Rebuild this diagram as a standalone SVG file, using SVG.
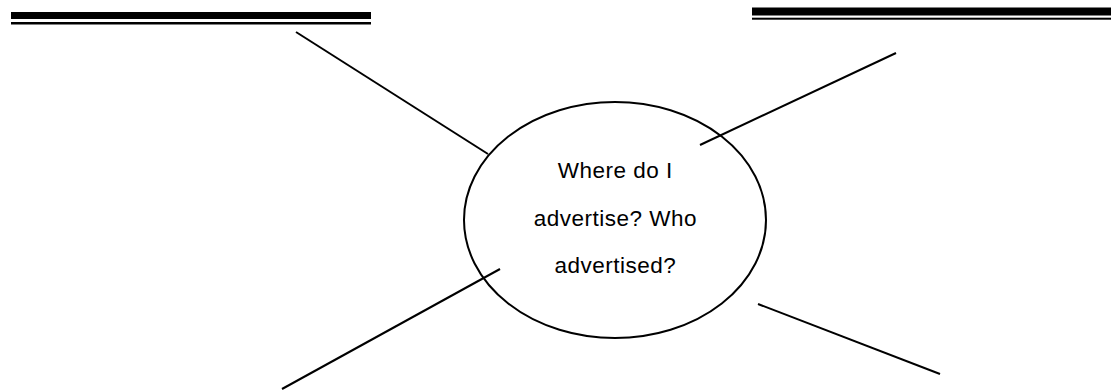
<svg xmlns="http://www.w3.org/2000/svg" width="1111" height="392" viewBox="0 0 1111 392">
<style>
.bar{fill:#000}
.ln{stroke:#000;stroke-width:2;fill:none}
.lbl{font-family:"Liberation Sans",Arial,sans-serif;font-size:22.5px;letter-spacing:0.5px;fill:#000;text-anchor:middle}
</style>
<rect width="1111" height="392" fill="#fff"/>
<g id="header-left">
<rect class="bar" x="11" y="12" width="360" height="7"/>
<rect class="bar" x="11" y="22" width="360" height="2.5"/>
</g>
<g id="header-right">
<rect class="bar" x="752" y="7.5" width="359" height="8"/>
<rect class="bar" x="752" y="17.7" width="359" height="2"/>
</g>
<g id="connectors">
<line class="ln" x1="296" y1="32" x2="488" y2="154"/>
<line class="ln" x1="700" y1="145" x2="896" y2="53"/>
<line class="ln" x1="282" y1="389" x2="500" y2="269"/>
<line class="ln" x1="758" y1="304" x2="940" y2="374"/>
</g>
<g id="center">
<ellipse class="ln" cx="615" cy="220" rx="151" ry="118"/>
<text class="lbl" x="615.3" y="178">Where do I</text>
<text class="lbl" x="615.3" y="226">advertise? Who</text>
<text class="lbl" x="615.3" y="273">advertised?</text>
</g>
</svg>
